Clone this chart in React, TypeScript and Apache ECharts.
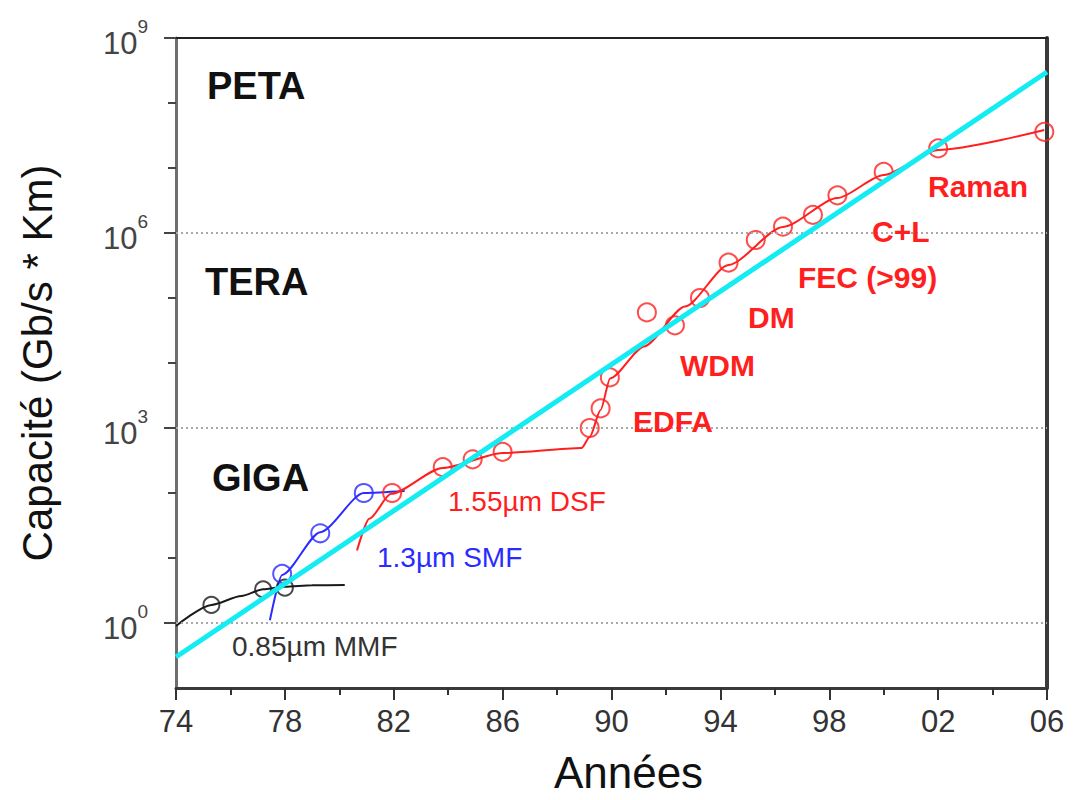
import React, { useEffect, useRef } from "react";
import * as echarts from "echarts";

// ---- Axis ticks / labels ----
const xMajorTicks = [74, 78, 82, 86, 90, 94, 98, 102, 106];
const xMinorTicks = [76, 80, 84, 88, 92, 96, 100, 104];
const yMajorTicks = [1, 1e3, 1e6, 1e9];
const yMinorTicks = [10, 100, 1e4, 1e5, 1e7, 1e8];

// ---- 0.85µm MMF (black) ----
const mmfCurve: [number, number][] = [
  [74.0, 0.9], [75.3, 1.9], [76.4, 2.6], [77.2, 3.3], [78.0, 3.6], [79.0, 3.8], [80.2, 3.85],
];
const mmfPoints: [number, number][] = [
  [75.3, 1.9], [77.2, 3.3], [78.0, 3.5],
];

// ---- 1.3µm SMF (blue) ----
const smfCurve: [number, number][] = [
  [77.45, 1.1], [77.9, 5.5], [79.3, 25], [80.9, 100], [82.4, 107],
];
const smfPoints: [number, number][] = [
  [77.9, 5.7], [79.3, 24], [80.9, 100],
];

// ---- 1.55µm DSF and later (red) ----
const dsfCurve: [number, number][] = [
  [80.65, 13], [81.1, 40], [81.9, 97], [83.8, 243], [86.0, 412], [88.9, 492],
  [89.2, 730], [89.6, 1900], [89.95, 5800], [91.2, 18000], [92.7, 74000], [94.3, 322000],
  [96.3, 1.24e6], [98.3, 3.45e6], [100.0, 7.8e6], [102.0, 1.9e7], [105.9, 3.85e7],
];
const dsfPoints: [number, number][] = [
  [81.94, 100], [83.8, 250], [84.9, 330], [86.0, 430], [89.2, 1000], [89.6, 2000],
  [89.94, 6000], [91.3, 60000], [92.33, 38000], [93.25, 1e5], [94.3, 3.5e5], [95.3, 7.8e5],
  [96.3, 1.25e6], [97.4, 1.9e6], [98.3, 3.8e6], [100.0, 8.7e6], [102.0, 2.0e7], [105.9, 3.6e7],
];

// ---- Trend (cyan) ----
const trend: [number, number][] = [
  [74, 0.3], [106, 3e8],
];

// ---- Grid reference levels ----
const gridLevels = [1, 1e3, 1e6];

const FONT = '"Liberation Sans", Arial, sans-serif';
const RED = "#ff1f1f";
const BLUE = "#2b2bff";
const BLACK = "#1a1a1a";
const CYAN = "#12ecf2";

export default function App() {
  const ref = useRef<HTMLDivElement>(null);
  useEffect(() => {
    if (!ref.current) return;
    const chart = echarts.init(ref.current, undefined, { renderer: "svg" });

    const txt = (text: string, x: number, y: number, fill: string, size: number, bold: boolean) => ({
      type: "text",
      x,
      y,
      z: 50,
      style: {
        text,
        fill,
        font: `${bold ? "bold " : ""}${size}px ${FONT}`,
        textAlign: "left",
        textVerticalAlign: "middle",
        align: "left",
        verticalAlign: "middle",
      },
    });

    const circleSeries = (data: [number, number][], color: string, size: number) => ({
      type: "scatter",
      data,
      symbol: "circle",
      symbolSize: size,
      itemStyle: { color: "rgba(0,0,0,0)", borderColor: color, borderWidth: 2 },
      z: 4,
      silent: true,
    });

    const curveSeries = (data: [number, number][], color: string) => ({
      type: "line",
      data,
      smooth: 0.25,
      smoothMonotone: "x",
      showSymbol: false,
      symbol: "none",
      lineStyle: { color, width: 2 },
      z: 3,
      silent: true,
    });

    chart.setOption({
      animation: false,
      backgroundColor: "#ffffff",
      grid: { left: 176, right: 35, top: 38, bottom: 112, containLabel: false },
      xAxis: [
        {
          type: "value",
          min: 74,
          max: 106,
          position: "bottom",
          name: "Années",
          nameLocation: "middle",
          nameGap: 62,
          nameTextStyle: { fontSize: 44, color: "#111", fontFamily: FONT, padding: [0, 0, 0, 34] },
          axisLine: { show: true, onZero: false, lineStyle: { color: "#3a3a3a", width: 3 } },
          axisTick: { show: true, customValues: xMajorTicks, length: 12, lineStyle: { color: "#333", width: 2 } },
          axisLabel: {
            customValues: xMajorTicks,
            margin: 18,
            fontSize: 31,
            color: "#333",
            fontFamily: FONT,
            formatter: (v: number) => String(Math.round(v) % 100).padStart(2, "0"),
          },
          splitLine: { show: false },
        },
        {
          type: "value",
          min: 74,
          max: 106,
          position: "bottom",
          axisLine: { show: false, onZero: false },
          axisTick: { show: true, customValues: xMinorTicks, length: 7, lineStyle: { color: "#333", width: 2 } },
          axisLabel: { show: false },
          splitLine: { show: false },
        },
        {
          type: "value",
          min: 74,
          max: 106,
          position: "top",
          axisLine: { show: true, onZero: false, lineStyle: { color: "#222", width: 2 } },
          axisTick: { show: false },
          axisLabel: { show: false },
          splitLine: { show: false },
        },
      ],
      yAxis: [
        {
          type: "log",
          logBase: 10,
          min: 0.1,
          max: 1e9,
          position: "left",
          name: "Capacité (Gb/s * Km)",
          nameLocation: "middle",
          nameRotate: 90,
          nameGap: 118,
          nameTextStyle: { fontSize: 42, color: "#111", fontFamily: FONT },
          axisLine: { show: true, onZero: false, lineStyle: { color: "#6e6e6e", width: 3 } },
          axisTick: { show: true, customValues: yMajorTicks, length: 12, lineStyle: { color: "#444", width: 2 } },
          axisLabel: {
            customValues: yMajorTicks,
            margin: 28,
            color: "#444",
            fontFamily: FONT,
            formatter: (v: number) => `{b|10}{s|${Math.round(Math.log10(v))}}`,
            rich: {
              b: { fontSize: 31, lineHeight: 42, verticalAlign: "bottom", color: "#444", fontFamily: FONT },
              s: { fontSize: 19, lineHeight: 19, verticalAlign: "top", color: "#444", fontFamily: FONT },
            },
          },
          splitLine: { show: false },
        },
        {
          type: "value",
          min: 0,
          max: 1,
          position: "right",
          axisLine: { show: true, onZero: false, lineStyle: { color: "#3a3a3a", width: 4 } },
          axisTick: { show: false },
          axisLabel: { show: false },
          splitLine: { show: false },
        },
        {
          type: "log",
          logBase: 10,
          min: 0.1,
          max: 1e9,
          position: "left",
          axisLine: { show: false, onZero: false },
          axisTick: { show: true, customValues: yMinorTicks, length: 8, lineStyle: { color: "#444", width: 2 } },
          axisLabel: { show: false },
          splitLine: { show: false },
        },
      ],
      series: [
        {
          type: "line",
          data: [],
          silent: true,
          z: 1,
          markLine: {
            silent: true,
            symbol: ["none", "none"],
            label: { show: false },
            lineStyle: { color: "#a8a8a8", type: [2, 3], width: 2 },
            data: gridLevels.map((v) => ({ yAxis: v })),
          },
        },
        curveSeries(mmfCurve, BLACK),
        circleSeries(mmfPoints, BLACK, 16),
        curveSeries(smfCurve, BLUE),
        circleSeries(smfPoints, BLUE, 18),
        curveSeries(dsfCurve, RED),
        circleSeries(dsfPoints, RED, 18),
        {
          type: "line",
          data: trend,
          showSymbol: false,
          symbol: "none",
          lineStyle: { color: CYAN, width: 5 },
          z: 5,
          silent: true,
        },
      ],
      graphic: [
        txt("PETA", 207, 86, "#111", 38, true),
        txt("TERA", 205, 282, "#111", 38, true),
        txt("GIGA", 212, 478, "#111", 38, true),
        txt("0.85µm MMF", 232, 646, "#333", 28, false),
        txt("1.3µm SMF", 377, 557, BLUE, 28, false),
        txt("1.55µm DSF", 448, 501, RED, 28, false),
        txt("EDFA", 633, 421, RED, 30, true),
        txt("WDM", 680, 365, RED, 30, true),
        txt("DM", 748, 317, RED, 30, true),
        txt("FEC (>99)", 798, 277, RED, 30, true),
        txt("C+L", 872, 231, RED, 30, true),
        txt("Raman", 928, 186, RED, 30, true),
      ],
    });
    return () => chart.dispose();
  }, []);
  return (
    <div
      ref={ref}
      style={{ position: "fixed", left: 0, top: 0, width: 1082, height: 800, background: "#fff" }}
    />
  );
}
